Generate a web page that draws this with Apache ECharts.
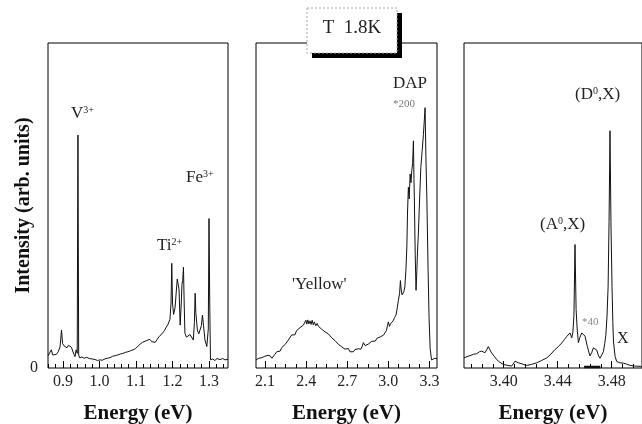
<!DOCTYPE html>
<html>
<head>
<meta charset="utf-8">
<script src="https://cdn.jsdelivr.net/npm/echarts@6/dist/echarts.min.js"></script>
<style>
html,body{margin:0;padding:0;background:#fff;}
#chart{width:642px;height:424px;}
</style>
</head>
<body>
<div id="chart"></div>
<script>
// near-IR panel (V3+, Ti2+, Fe3+)
var energy1 = [0.859,0.864,0.868,0.872,0.877,0.882,0.887,0.892,0.896,0.899,0.903,0.907,0.911,0.915,0.919,0.923,0.927,0.930,0.933,0.936,0.939,0.941,0.943,0.946,0.952,0.958,0.965,0.972,0.980,0.988,0.995,1.001,1.008,1.015,1.022,1.029,1.036,1.043,1.050,1.057,1.064,1.071,1.078,1.085,1.092,1.099,1.106,1.112,1.118,1.123,1.128,1.133,1.138,1.143,1.148,1.153,1.158,1.163,1.168,1.173,1.178,1.183,1.188,1.193,1.196,1.198,1.200,1.203,1.207,1.210,1.213,1.216,1.218,1.221,1.224,1.226,1.228,1.230,1.232,1.234,1.238,1.243,1.248,1.253,1.257,1.260,1.262,1.264,1.268,1.272,1.275,1.279,1.282,1.285,1.289,1.294,1.298,1.300,1.302,1.304,1.310,1.316,1.322,1.330,1.337,1.344,1.352];
var intensity1 = [3.7,4.2,5.6,4.0,4.5,4.2,5.0,6.5,11.7,7.5,6.8,7.4,6.2,7.0,7.6,6.4,6.1,4.2,3.5,5.6,4.5,71.7,4.0,3.1,3.4,3.0,3.3,2.9,2.8,2.6,2.3,2.5,2.4,2.8,3.0,3.2,3.6,3.8,4.0,4.3,4.5,4.8,5.0,5.3,5.6,6.0,6.8,7.4,7.9,7.3,8.4,8.0,8.8,8.1,8.5,7.9,8.8,9.6,10.0,10.8,11.5,12.6,13.5,15.0,20,32.2,20,16.5,18.5,23,27.4,25.5,24,13.2,20,25.8,27,31,20,10.7,9.5,9.1,10.3,10.1,8.6,14,23,17,11.7,10.5,10.7,13,16.3,13,8.6,6.6,12,46,20,2.5,2.8,2.3,2.9,2.6,2.9,2.5,2.7];

// visible panel ('Yellow' band, DAP)
var energy2 = [2.034,2.045,2.055,2.066,2.077,2.088,2.099,2.110,2.122,2.137,2.150,2.161,2.172,2.185,2.197,2.210,2.222,2.234,2.246,2.258,2.270,2.282,2.295,2.307,2.318,2.330,2.343,2.355,2.368,2.380,2.390,2.398,2.405,2.412,2.420,2.428,2.436,2.444,2.452,2.460,2.470,2.480,2.490,2.500,2.512,2.526,2.538,2.550,2.562,2.575,2.587,2.599,2.611,2.623,2.635,2.647,2.660,2.672,2.684,2.696,2.708,2.720,2.733,2.745,2.757,2.769,2.781,2.790,2.800,2.810,2.818,2.823,2.830,2.840,2.852,2.865,2.878,2.891,2.905,2.918,2.930,2.942,2.952,2.964,2.976,2.986,2.993,3.000,3.008,3.016,3.025,3.035,3.045,3.056,3.065,3.073,3.082,3.088,3.094,3.100,3.106,3.113,3.120,3.128,3.135,3.140,3.146,3.152,3.159,3.165,3.171,3.177,3.183,3.187,3.190,3.196,3.202,3.208,3.213,3.219,3.228,3.237,3.247,3.256,3.262,3.268,3.274,3.281,3.290,3.297,3.305,3.315,3.329,3.340,3.355];
var intensity2 = [2.5,2.2,3.0,2.6,3.2,3.0,3.6,3.3,3.9,3.7,3.0,2.5,4.2,5.0,5.6,5.2,6.3,6.1,7.2,7.8,8.6,8.9,10.2,10.7,10.2,11.5,11.7,12.4,12.0,13.2,13.6,14.7,13.5,14.8,13.6,14.5,13.4,14.7,13.3,14.2,13.0,13.7,12.8,13.2,12.0,12.5,11.1,11.5,10.5,10.2,9.3,9.3,8.4,8.0,7.3,7.6,6.5,6.8,5.8,5.6,6.0,5.0,5.3,5.0,5.7,5.3,5.9,6.4,5.8,6.8,7.8,8.4,6.9,6.6,7.3,7.6,8.2,8.6,8.3,9.2,9.0,9.6,9.3,10.1,10.1,11.5,13.0,14.2,12.8,13.6,13.2,14.5,15.5,16.3,18.5,20.8,23,26.9,24,22.5,22,23.5,24.9,30,37.2,48,55.6,52,59.7,57,60.7,63,69.9,58,51.4,35,23.9,30,36,41.3,52,61.7,67,71.9,76,80.1,65,52,30,15.6,6,2.5,2.3,3.0,2.8];

// near-band-edge panel (A0X, D0X)
var energy3 = [3.3706,3.3728,3.3750,3.3775,3.3800,3.3820,3.3837,3.3850,3.3861,3.3874,3.3886,3.3898,3.3911,3.3930,3.3948,3.3970,3.3997,3.4030,3.4059,3.4072,3.4084,3.4096,3.4108,3.4140,3.4170,3.4205,3.4244,3.4280,3.4319,3.4350,3.4380,3.4405,3.4430,3.4450,3.4467,3.4480,3.4491,3.4504,3.4512,3.4520,3.4528,3.4536,3.4544,3.4553,3.4565,3.4578,3.4590,3.4602,3.4620,3.4639,3.4652,3.4664,3.4676,3.4689,3.4700,3.4713,3.4725,3.4738,3.4748,3.4756,3.4765,3.4773,3.4780,3.4787,3.4794,3.4802,3.4808,3.4813,3.4825,3.4837,3.4860,3.4886,3.4910,3.4936,3.4970,3.5020];
var intensity3 = [3.1,3.5,3.8,4.2,4.4,5.0,5.2,4.9,4.7,5.6,6.6,5.6,4.6,3.6,2.6,1.8,1.1,0.8,0.6,1.2,2.1,1.9,1.6,1.2,0.8,1.1,1.6,2.3,3.1,4.3,5.7,6.6,7.7,8.8,9.7,10.3,10.8,9.3,11,16,38,18,12,7.8,9.5,10.8,10.6,9.8,6.5,3.7,4.8,6.2,6.8,5.5,4.0,3.0,3.4,5.0,7.5,10,16,25,45,73,45,25,14,8,3.5,2,1.6,1.5,1.2,0.8,0.6,0.5];
// unscaled trace under the x40 part
var energy3b = [3.4595,3.4715];
var intensity3b = [0.3,0.3];

var ticks1 = [0.9, 1.0, 1.1, 1.2, 1.3];
var ticks2 = [2.1, 2.4, 2.7, 3.0, 3.3];
var ticks3 = [3.40, 3.44, 3.48];

function zip(xs, ys) {
    var out = [];
    for (var i = 0; i < xs.length; i++) out.push([xs[i], ys[i]]);
    return out;
}
function steps(from, to, step) {
    var out = [];
    for (var v = from; v <= to + 1e-9; v += step) out.push(+v.toFixed(4));
    return out;
}

var serif = 'Liberation Serif';
var grids = [
    {left: 48, top: 43, width: 180, height: 325},
    {left: 256, top: 43, width: 181, height: 325},
    {left: 464, top: 43, width: 178, height: 325}
];
grids.forEach(function (g) {
    g.show = true; g.borderColor = '#000'; g.borderWidth = 1;
    g.backgroundColor = 'transparent'; g.outerBoundsMode = 'none'; g.containLabel = false;
});

function majorAxis(g, min, max, ticks, digits) {
    return {
        type: 'value', gridIndex: g, min: min, max: max, position: 'bottom',
        axisLine: {show: false}, splitLine: {show: false},
        axisTick: {inside: true, length: 7, customValues: ticks, lineStyle: {color: '#000'}},
        axisLabel: {customValues: ticks, margin: 6, fontFamily: serif, fontSize: 16, color: '#222',
            formatter: function (v) { return v.toFixed(digits); }},
        name: 'Energy (eV)', nameLocation: 'middle', nameGap: 35, nameMoveOverlap: false,
        nameTextStyle: {fontFamily: serif, fontWeight: 'bold', fontSize: 21, color: '#111'}
    };
}
function minorAxis(g, min, max, ticks) {
    return {
        type: 'value', gridIndex: g, min: min, max: max, position: 'bottom',
        axisLine: {show: false}, splitLine: {show: false}, axisLabel: {show: false},
        axisTick: {inside: true, length: 4, customValues: ticks, lineStyle: {color: '#000'}}
    };
}
function yAx(g, first) {
    var y = {
        type: 'value', gridIndex: g, min: 0, max: 100, interval: 100,
        axisLine: {show: false}, axisTick: {show: false}, splitLine: {show: false},
        axisLabel: {show: first, margin: 10, fontFamily: serif, fontSize: 16, color: '#222',
            formatter: function (v) { return v === 0 ? '0' : ''; }}
    };
    if (first) {
        y.name = 'Intensity (arb. units)';
        y.nameLocation = 'middle';
        y.nameGap = 14;
        y.nameMoveOverlap = false;
        y.nameTextStyle = {fontFamily: serif, fontWeight: 'bold', fontSize: 20, color: '#111'};
    }
    return y;
}
function line(xi, yi, data, w) {
    return {type: 'line', xAxisIndex: xi, yAxisIndex: yi, data: data, symbol: 'none',
        lineStyle: {color: '#111', width: w || 1}, animation: false};
}

var lab = {fontFamily: serif, fontSize: 17, color: '#222'};
var sup = {fontFamily: serif, fontSize: 10, color: '#222', verticalAlign: 'top'};
function note(x, y, text, size, color) {
    return {type: 'text', x: x, y: y, z: 10, style: {
        text: text, font: (size || 17) + 'px "' + serif + '"', fill: color || '#222',
        textVerticalAlign: 'middle', lineHeight: 18,
        rich: {b: lab, s: sup}
    }};
}

var chart = echarts.init(document.getElementById('chart'));
chart.setOption({
    backgroundColor: '#fff',
    grid: grids,
    xAxis: [
        majorAxis(0, 0.859, 1.352, ticks1, 1), minorAxis(0, 0.859, 1.352, steps(0.86, 1.34, 0.02)),
        majorAxis(1, 2.034, 3.355, ticks2, 1), minorAxis(1, 2.034, 3.355, steps(2.1, 3.3, 0.075)),
        majorAxis(2, 3.3706, 3.5024, ticks3, 2), minorAxis(2, 3.3706, 3.5024, steps(3.376, 3.496, 0.008))
    ],
    yAxis: [yAx(0, true), yAx(1, false), yAx(2, false)],
    series: [
        line(0, 0, zip(energy1, intensity1)),
        line(2, 1, zip(energy2, intensity2)),
        line(4, 2, zip(energy3, intensity3)),
        line(4, 2, zip(energy3b, intensity3b), 2.5)
    ],
    graphic: [
        {type: 'rect', z: 20, shape: {x: 312, y: 13, width: 90, height: 45}, style: {fill: '#000'}},
        {type: 'rect', z: 21, shape: {x: 307, y: 8, width: 90, height: 45},
            style: {fill: '#fff', stroke: '#aaa', lineWidth: 1, lineDash: [2, 2]}},
        {type: 'text', z: 22, x: 352, y: 28, style: {text: 'T  1.8K', font: '19px "' + serif + '"',
            fill: '#222', textAlign: 'center', textVerticalAlign: 'middle'}},
        note(71, 114, '{b|V}{s|3+}'),
        note(157, 246, '{b|Ti}{s|2+}'),
        note(186, 178, '{b|Fe}{s|3+}'),
        note(292, 285, "'Yellow'"),
        note(393, 84, 'DAP'),
        note(393, 104, '*200', 11, '#777'),
        note(540, 225, '{b|(A}{s|0}{b|,X)}'),
        note(575, 95, '{b|(D}{s|0}{b|,X)}'),
        note(582, 322, '*40', 11, '#888'),
        note(617, 339, 'X', 16)
    ]
});
window.onresize = chart.resize;
</script>
</body>
</html>
